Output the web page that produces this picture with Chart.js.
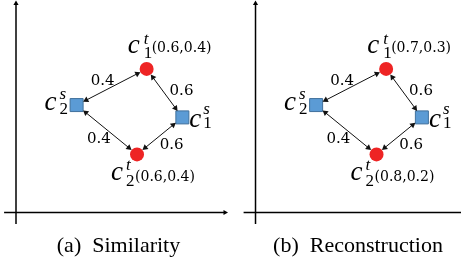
<!DOCTYPE html>
<html>
<head>
<meta charset="utf-8">
<script src="https://cdn.jsdelivr.net/npm/chart.js@4.4.1/dist/chart.umd.min.js"></script>
<style>
  html, body { margin: 0; padding: 0; background: #fff; overflow: hidden; }
  #wrap { width: 461px; height: 269px; }
</style>
</head>
<body>
<div id="wrap"><canvas id="diagram" width="461" height="269"></canvas></div>
<script>
// node positions in axis units (origin = where the axes cross), same layout in both panels
const nodeNames = ['c1t', 'c2s', 'c1s', 'c2t'];
const nodeX = [6.25, 2.90, 7.96, 5.79];
const nodeY = [6.87, 5.14, 4.55, 2.78];
const nodeKind = ['target', 'source', 'source', 'target'];

// edges (both directions) and their weights
const edgeFrom = [1, 0, 1, 3];
const edgeTo = [0, 2, 3, 2];
const edgeWeights = ['0.4', '0.6', '0.4', '0.6'];

// per panel texts
const panelCaptions = ['(a)  Similarity', '(b)  Reconstruction'];
const targetValues = [
  ['(0.6,0.4)', '(0.6,0.4)'],
  ['(0.7,0.3)', '(0.8,0.2)']
];
const axisLength = 10;

// ---- layout (pixels / units) ----
const PX = 20.9;                 // pixels per axis unit
const panelShift = [0, 11.46];   // x offset of each panel origin, units
const X_MIN = -16 / PX, X_MAX = (461 - 16) / PX;
const Y_MAX = 212.5 / PX, Y_MIN = -(269 - 212.5) / PX;
const ARROW_R = 3.5;
const CIRCLE_R = 7;
const SQUARE_HALF = 6.5;

const RED = '#EE2424';
const BLUE = '#5B9BD5';
const BLUE_EDGE = '#41719C';

// label offsets relative to node centre in px
const nodeLabelOffsets = {
  c1t: { c: [-19, -16], sup: [-3, -25], sub: [-3, -11], val: [5, -17] },
  c2s: { c: [-32, 5], sup: [-17, -6], sub: [-17, 9] },
  c1s: { c: [7, 10], sup: [21, -3], sub: [21, 11] },
  c2t: { c: [-26, 26], sup: [-11, 16], sub: [-11, 32], val: [-2, 27] }
};
const edgeLabelOffsets = [[-9, -6], [17, -2], [-8, 9], [12, 9]];

function boundary(i, ux, uy) {
  if (nodeKind[i] === 'target') return CIRCLE_R;
  return SQUARE_HALF / Math.max(Math.abs(ux), Math.abs(uy));
}

function arrowRotation(ctx) {
  const pts = ctx.dataset.data;
  const i = ctx.dataIndex;
  const p = pts[i], q = pts[1 - i];
  return Math.atan2(p.x - q.x, p.y - q.y) * 180 / Math.PI;
}

const datasets = [];

panelShift.forEach((sx, p) => {
  // axes
  datasets.push({
    type: 'line',
    data: [{ x: sx, y: -0.55 }, { x: sx, y: axisLength }],
    borderColor: '#000', borderWidth: 1.5,
    pointStyle: 'triangle', pointRadius: [0, 3], pointBackgroundColor: '#000',
    pointBorderWidth: 0, rotation: arrowRotation
  });
  datasets.push({
    type: 'line',
    data: [{ x: sx - 0.57, y: 0 }, { x: sx + axisLength, y: 0 }],
    borderColor: '#000', borderWidth: 1.5,
    pointStyle: 'triangle', pointRadius: [0, 3], pointBackgroundColor: '#000',
    pointBorderWidth: 0, rotation: arrowRotation
  });

  // edges with arrowheads at both ends
  edgeFrom.forEach((a, k) => {
    const b = edgeTo[k];
    const dx = nodeX[b] - nodeX[a], dy = nodeY[b] - nodeY[a];
    const len = Math.hypot(dx, dy);
    const ux = dx / len, uy = dy / len;
    const da = (boundary(a, ux, uy) + ARROW_R) / PX;
    const db = (boundary(b, ux, uy) + ARROW_R) / PX;
    datasets.push({
      type: 'line',
      data: [
        { x: sx + nodeX[a] + ux * da, y: nodeY[a] + uy * da },
        { x: sx + nodeX[b] - ux * db, y: nodeY[b] - uy * db }
      ],
      borderColor: '#111', borderWidth: 1,
      pointStyle: 'triangle', pointRadius: ARROW_R, pointBackgroundColor: '#111',
      pointBorderWidth: 0, rotation: arrowRotation
    });
  });

  // nodes
  const tgt = [], src = [];
  nodeNames.forEach((n, i) => {
    const pt = { x: sx + nodeX[i], y: nodeY[i] };
    (nodeKind[i] === 'target' ? tgt : src).push(pt);
  });
  datasets.push({
    type: 'scatter', data: tgt, pointStyle: 'circle', pointRadius: CIRCLE_R,
    pointBackgroundColor: RED, pointBorderColor: RED, pointBorderWidth: 0
  });
  datasets.push({
    type: 'scatter', data: src, pointStyle: 'rect', pointRadius: SQUARE_HALF / Math.SQRT1_2,
    pointBackgroundColor: BLUE, pointBorderColor: BLUE_EDGE, pointBorderWidth: 1
  });
});

const labelPlugin = {
  id: 'labels',
  afterDatasetsDraw(chart) {
    const { ctx, scales } = chart;
    ctx.save();
    ctx.fillStyle = '#000';
    ctx.textAlign = 'left';
    ctx.textBaseline = 'alphabetic';
    panelShift.forEach((sx, p) => {
      let tIdx = 0;
      nodeNames.forEach((n, i) => {
        const px = scales.x.getPixelForValue(sx + nodeX[i]);
        const py = scales.y.getPixelForValue(nodeY[i]);
        const o = nodeLabelOffsets[n];
        ctx.font = 'italic 27px "Liberation Serif"';
        ctx.fillText('c', px + o.c[0], py + o.c[1]);
        ctx.font = 'italic 17px "Liberation Serif"';
        ctx.fillText(nodeKind[i] === 'target' ? 't' : 's', px + o.sup[0], py + o.sup[1]);
        ctx.font = '17px "Liberation Serif"';
        ctx.fillText(n.charAt(1), px + o.sub[0], py + o.sub[1]);
        if (o.val) {
          ctx.font = '14px "DejaVu Serif"';
          ctx.fillText(targetValues[p][tIdx++], px + o.val[0], py + o.val[1]);
        }
      });
      ctx.font = '15px "DejaVu Serif"';
      ctx.textAlign = 'center';
      ctx.textBaseline = 'middle';
      edgeFrom.forEach((a, k) => {
        const b = edgeTo[k];
        const mx = scales.x.getPixelForValue(sx + (nodeX[a] + nodeX[b]) / 2);
        const my = scales.y.getPixelForValue((nodeY[a] + nodeY[b]) / 2);
        ctx.fillText(edgeWeights[k], mx + edgeLabelOffsets[k][0], my + edgeLabelOffsets[k][1]);
      });
      // caption
      ctx.font = '22px "Liberation Serif"';
      ctx.textBaseline = 'alphabetic';
      const cx = scales.x.getPixelForValue(sx + axisLength / 2) - 2;
      ctx.fillText(panelCaptions[p], cx, 252);
      ctx.textAlign = 'left';
    });
    ctx.restore();
  }
};

new Chart(document.getElementById('diagram'), {
  type: 'scatter',
  data: { datasets },
  options: {
    responsive: false,
    devicePixelRatio: 1,
    animation: false,
    layout: { padding: 0, autoPadding: false },
    plugins: { legend: { display: false }, tooltip: { enabled: false }, title: { display: false } },
    scales: {
      x: { type: 'linear', display: false, min: X_MIN, max: X_MAX },
      y: { type: 'linear', display: false, min: Y_MIN, max: Y_MAX }
    }
  },
  plugins: [labelPlugin]
});
</script>
</body>
</html>
